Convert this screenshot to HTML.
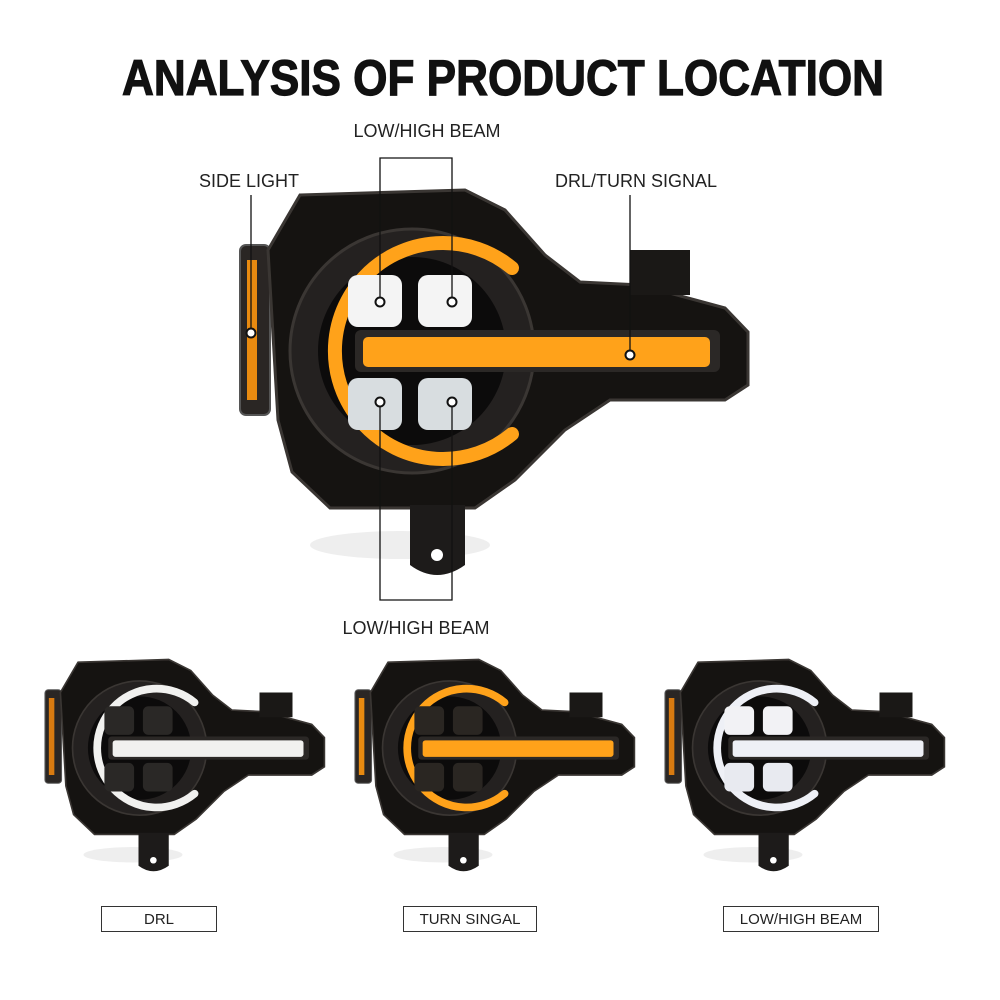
<!DOCTYPE html>
<html><head><style>
html,body{margin:0;padding:0;background:#fff;}
body{width:1000px;height:1000px;position:relative;overflow:hidden;font-family:"Liberation Sans",sans-serif;}
</style></head><body>
<svg width="1000" height="1000" viewBox="0 0 1000 1000" xmlns="http://www.w3.org/2000/svg" style="position:absolute;left:0;top:0">
<defs>
<g id="hl">
  <ellipse cx="400" cy="545" rx="90" ry="14" fill="#eee"/>
  <rect x="240" y="245" width="30" height="170" rx="6" fill="#2a2624" stroke="#555" stroke-width="2"/>
  <rect x="247" y="260" width="10" height="140" fill="var(--side)"/>
  <path d="M300,195 L465,190 L505,210 L545,255 L580,282 L640,285 L725,308 L748,332 L748,385 L725,400 L610,400 L565,430 L515,480 L475,508 L330,508 L292,472 L278,420 L268,250 Z" fill="#151311" stroke="#3a3633" stroke-width="3"/>
  <rect x="630" y="250" width="60" height="45" fill="#1a1816"/>
  <path d="M410,505 L465,505 L465,565 Q437,585 410,565 Z" fill="#1d1b1a"/>
  <circle cx="437" cy="555" r="6" fill="#fff"/>
  <circle cx="412" cy="351" r="122" fill="#242120" stroke="#3a3633" stroke-width="3"/>
  <circle cx="412" cy="351" r="94" fill="#0c0b0b"/>
  <path d="M512,268 A108,108 0 1 0 512,434" fill="none" stroke="var(--ring)" stroke-width="14" stroke-linecap="round"/>
  <rect x="348" y="275" width="54" height="52" rx="10" fill="var(--led)"/>
  <rect x="418" y="275" width="54" height="52" rx="10" fill="var(--led)"/>
  <rect x="348" y="378" width="54" height="52" rx="10" fill="var(--led2)"/>
  <rect x="418" y="378" width="54" height="52" rx="10" fill="var(--led2)"/>
  <rect x="355" y="330" width="365" height="42" rx="6" fill="#2b2826"/>
  <rect x="363" y="337" width="347" height="30" rx="5" fill="var(--ring)"/>
</g>
</defs>
<text x="503" y="95" text-anchor="middle" font-family="Liberation Sans" font-weight="bold" font-size="50" textLength="762" lengthAdjust="spacingAndGlyphs" fill="#111" stroke="#111" stroke-width="1.2">ANALYSIS OF PRODUCT LOCATION</text>

<use href="#hl" style="--ring:#ffa21a;--led:#f4f4f4;--led2:#d8dde0;--side:#e88a10"/>

<g transform="translate(-87,555) scale(0.55)"><use href="#hl" style="--ring:#f1f1ef;--led:#2a2826;--led2:#2a2826;--side:#d87a10"/></g>
<g transform="translate(223,555) scale(0.55)"><use href="#hl" style="--ring:#ffa21a;--led:#2a2622;--led2:#2a2622;--side:#e88a10"/></g>
<g transform="translate(533,555) scale(0.55)"><use href="#hl" style="--ring:#eef0f6;--led:#f2f2f5;--led2:#e8eaf0;--side:#d87a10"/></g>

<g stroke="#111" stroke-width="1.3" fill="none">
  <path d="M380,302 V158 H452 V302"/>
  <path d="M380,402 V600 H452 V402"/>
  <path d="M251,333 V195"/>
  <path d="M630,355 V195"/>
</g>
<g fill="#fff" stroke="#111" stroke-width="2">
  <circle cx="380" cy="302" r="4.5"/><circle cx="452" cy="302" r="4.5"/>
  <circle cx="380" cy="402" r="4.5"/><circle cx="452" cy="402" r="4.5"/>
  <circle cx="251" cy="333" r="4.5"/><circle cx="630" cy="355" r="4.5"/>
</g>
<g font-family="Liberation Sans" font-size="18" fill="#222" text-anchor="middle">
  <text x="427" y="137">LOW/HIGH BEAM</text>
  <text x="416" y="634">LOW/HIGH BEAM</text>
  <text x="249" y="187">SIDE LIGHT</text>
  <text x="636" y="187">DRL/TURN SIGNAL</text>
</g>
<g fill="none" stroke="#333" stroke-width="1">
  <rect x="101.5" y="906.5" width="115" height="25"/>
  <rect x="403.5" y="906.5" width="133" height="25"/>
  <rect x="723.5" y="906.5" width="155" height="25"/>
</g>
<g font-family="Liberation Sans" font-size="15" fill="#222" text-anchor="middle">
  <text x="159" y="924">DRL</text>
  <text x="470" y="924">TURN SINGAL</text>
  <text x="801" y="924">LOW/HIGH BEAM</text>
</g>
</svg>
</body></html>
